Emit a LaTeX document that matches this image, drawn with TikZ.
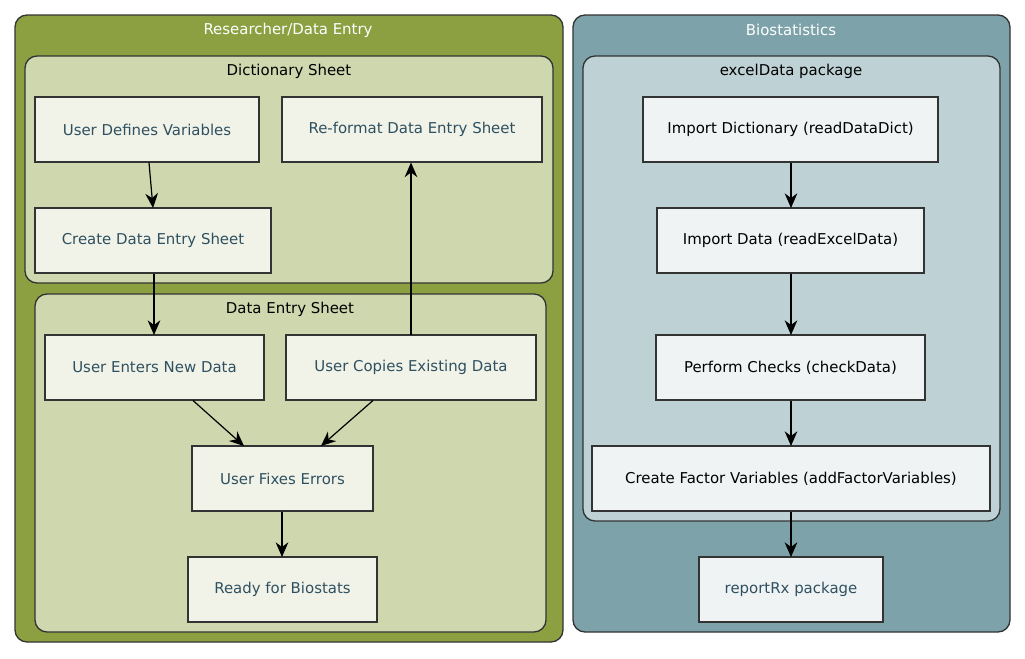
\documentclass[tikz,border=0pt]{standalone}
\usepackage{fontspec}
\setmainfont{DejaVu Sans}
\usetikzlibrary{arrows.meta}
\definecolor{olive}{HTML}{8CA042}
\definecolor{oliveL}{HTML}{CED7AE}
\definecolor{boxL}{HTML}{F1F3E8}
\definecolor{teal}{HTML}{7DA2A9}
\definecolor{tealL}{HTML}{BED1D5}
\definecolor{boxR}{HTML}{EFF3F4}
\definecolor{txtL}{HTML}{2F5060}
\definecolor{edge}{HTML}{333333}
\tikzset{
  grp/.style={draw=edge, line width=1pt, rounded corners=9pt},
  box/.style={draw=edge, line width=0.9pt, font=\fontsize{11.2}{13}\selectfont},
  ttl/.style={font=\fontsize{11.2}{13}\selectfont, inner sep=0pt},
  arr/.style={-{Stealth[length=11pt,width=9.5pt,inset=3.5pt]}, line width=0.9pt, black},
}
\begin{document}
\begin{tikzpicture}[x=0.75pt,y=-0.75pt]
\useasboundingbox (0,0) rectangle (1025,658);
% left group
\path[grp, fill=olive] (15,15) rectangle (563,642);
\node[ttl, text=white] (t1) at (288,30) {Researcher/Data Entry};
\path[grp, fill=oliveL] (25,56) rectangle (553,283);
\node[ttl] (t2) at (289,71) {Dictionary Sheet};
\path[grp, fill=oliveL] (35,294) rectangle (546,632);
\node[ttl] (t3) at (290,309) {Data Entry Sheet};
% right group
\path[grp, fill=teal] (573,15) rectangle (1010,632);
\node[ttl, text=white] (t4) at (791,30) {Biostatistics};
\path[grp, fill=tealL] (583,56) rectangle (1000,521);
\node[ttl] (t5) at (791,71) {excelData package};
% left boxes
\path[box, fill=boxL] (35,97) rectangle (259,162) node[midway, text=txtL] (udv) {User Defines Variables};
\path[box, fill=boxL] (282,97) rectangle (542,162) node[midway, text=txtL] (ref) {Re-format Data Entry Sheet};
\path[box, fill=boxL] (35,208) rectangle (271,273) node[midway, text=txtL] (cdes) {Create Data Entry Sheet};
\path[box, fill=boxL] (45,335) rectangle (264,400) node[midway, text=txtL] (uend) {User Enters New Data};
\path[box, fill=boxL] (286,335) rectangle (536,400) node[midway, text=txtL] (uced) {User Copies Existing Data};
\path[box, fill=boxL] (192,446) rectangle (373,511) node[midway, text=txtL] (ufe) {User Fixes Errors};
\path[box, fill=boxL] (188,557) rectangle (377,622) node[midway, text=txtL] (rfb) {Ready for Biostats};
% right boxes
\path[box, fill=boxR] (643,97) rectangle (938,162) node[midway, text=black] (idict) {Import Dictionary (readDataDict)};
\path[box, fill=boxR] (657,208) rectangle (924,273) node[midway, text=black] (idata) {Import Data (readExcelData)};
\path[box, fill=boxR] (656,335) rectangle (925,400) node[midway, text=black] (pc) {Perform Checks (checkData)};
\path[box, fill=boxR] (592,446) rectangle (990,511) node[midway, text=black] (cfv) {Create Factor Variables (addFactorVariables)};
\path[box, fill=boxR] (699,557) rectangle (883,622) node[midway, text=txtL] (rrx) {reportRx package};
% arrow anchor coordinates
\coordinate (a1) at (149,162.5); \coordinate (b1) at (153,208);
\coordinate (a2) at (154,273.5); \coordinate (b2) at (154,335);
\coordinate (a3) at (411,335); \coordinate (b3) at (411,162.5);
\coordinate (a4) at (193,400.5); \coordinate (b4) at (244,446);
\coordinate (a5) at (373,400.5); \coordinate (b5) at (321,446);
\coordinate (a6) at (282,511.5); \coordinate (b6) at (282,557);
\coordinate (a7) at (791,162.5); \coordinate (b7) at (791,208);
\coordinate (a8) at (791,273.5); \coordinate (b8) at (791,335);
\coordinate (a9) at (791,400.5); \coordinate (b9) at (791,446);
\coordinate (a10) at (791,511.5); \coordinate (b10) at (791,557);
\foreach \i in {1,...,10} {\draw[arr] (a\i) -- (b\i);}
\end{tikzpicture}
\end{document}
